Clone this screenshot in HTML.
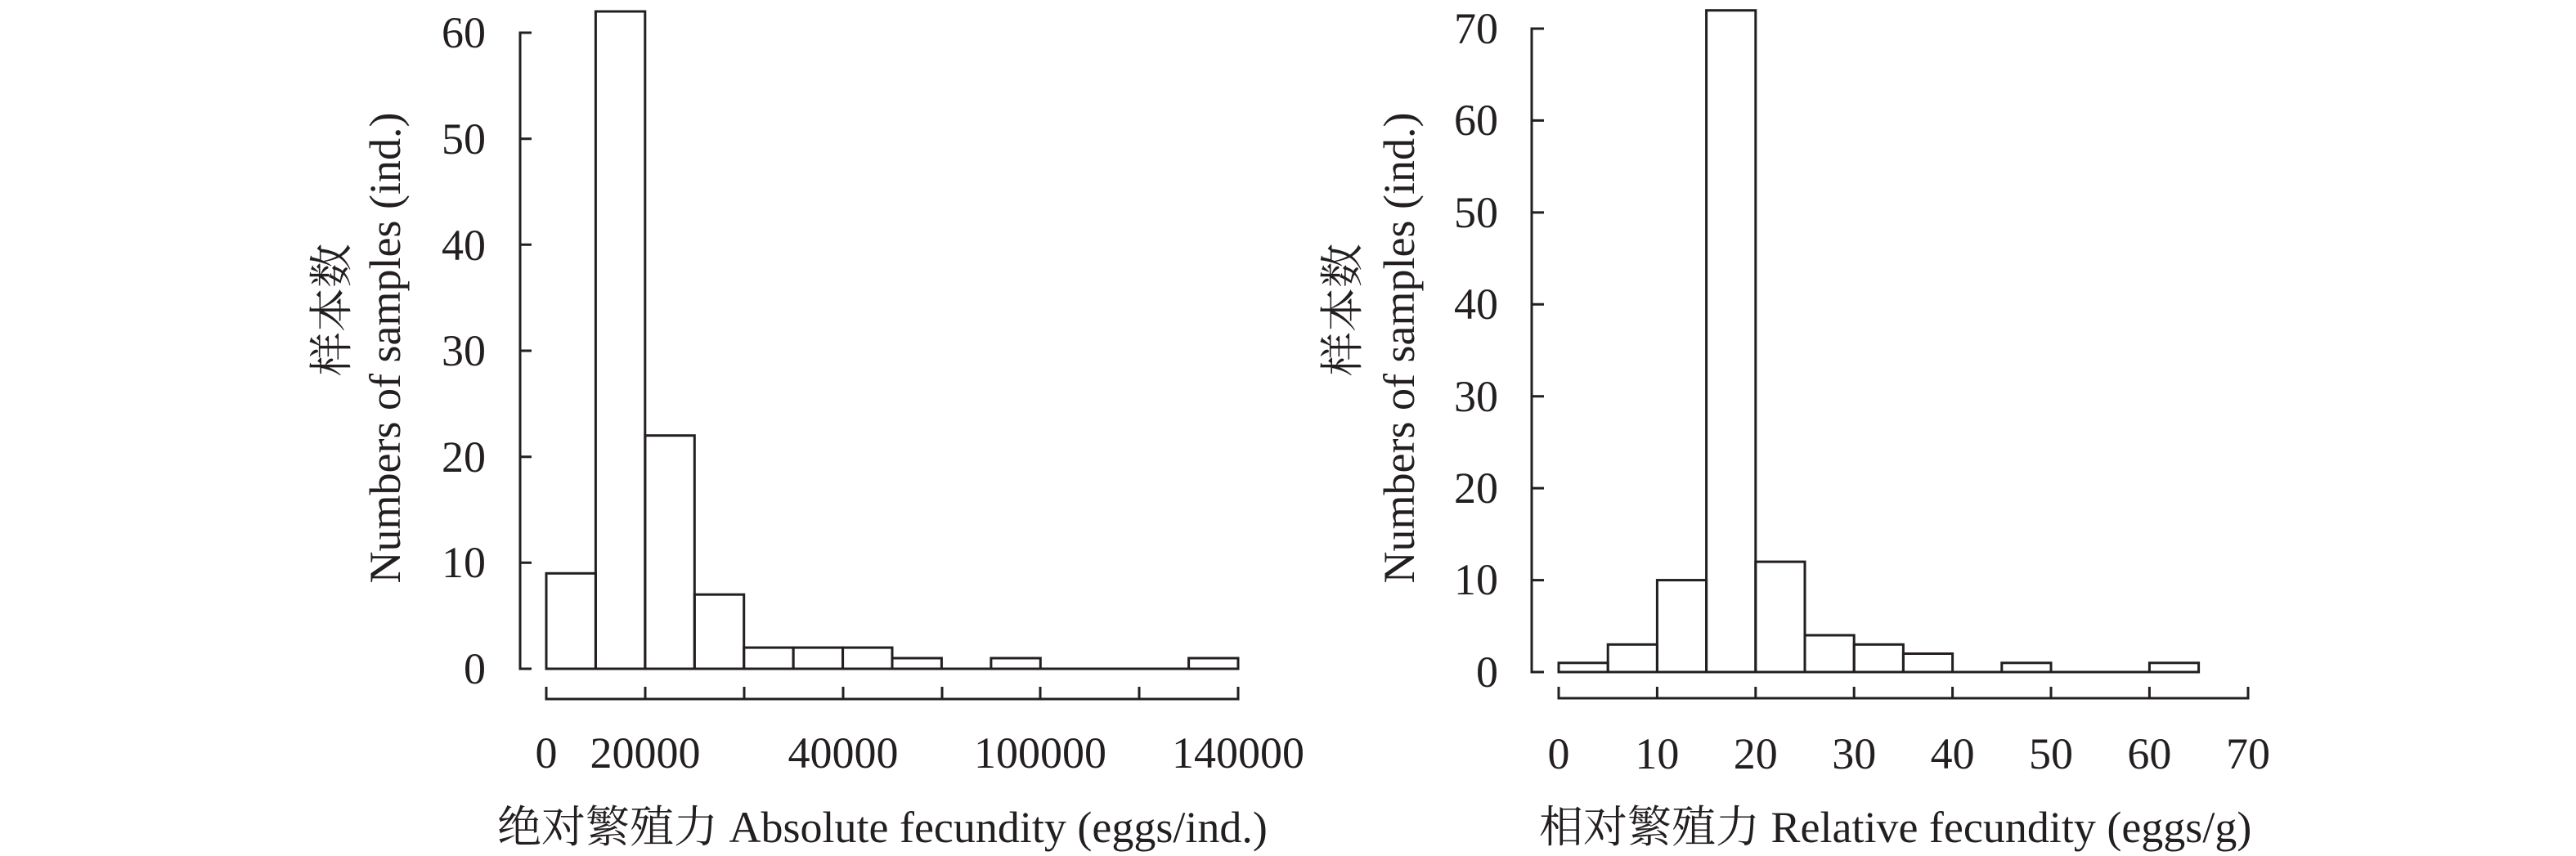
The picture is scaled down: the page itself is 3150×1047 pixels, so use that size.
<!DOCTYPE html>
<html><head><meta charset="utf-8"><style>
html,body{margin:0;padding:0;background:#fff;}
svg{display:block;}
text{font-family:"Liberation Serif","Noto Serif CJK SC","Noto Sans CJK SC",serif;fill:#231f20;}
</style></head><body>
<svg width="3150" height="1047" viewBox="0 0 3150 1047" xmlns="http://www.w3.org/2000/svg">
<g stroke="#231f20" stroke-width="3" fill="none">
<!-- Left chart y axis -->
<path d="M650,40 H636 V818 H650"/>
<path d="M636,169.7 H650 M636,299.3 H650 M636,429 H650 M636,558.7 H650 M636,688.3 H650"/>
<!-- Left bars: y0=818, 12.967 per unit -->
<path d="M668,818 H1514"/>
<rect x="668" y="701.3" width="60.4" height="116.7"/>
<rect x="728.4" y="14" width="60.4" height="804"/>
<rect x="788.9" y="532.7" width="60.4" height="285.3"/>
<rect x="849.3" y="727.2" width="60.4" height="90.8"/>
<rect x="909.7" y="792.1" width="60.4" height="25.9"/>
<rect x="970.1" y="792.1" width="60.4" height="25.9"/>
<rect x="1030.6" y="792.1" width="60.4" height="25.9"/>
<rect x="1091" y="805" width="60.4" height="13"/>
<rect x="1211.9" y="805" width="60.4" height="13"/>
<rect x="1453.6" y="805" width="60.4" height="13"/>
<!-- Left x axis -->
<path d="M668,840 V855 H1514 V840"/>
<path d="M789,840 V855 M910,840 V855 M1031,840 V855 M1152,840 V855 M1272,840 V855 M1393,840 V855"/>

<!-- Right chart y axis -->
<path d="M1888,35 H1873 V822 H1888"/>
<path d="M1873,147.4 H1888 M1873,259.9 H1888 M1873,372.3 H1888 M1873,484.7 H1888 M1873,597.1 H1888 M1873,709.6 H1888"/>
<!-- Right bars: y0=822, 11.24 per unit, bin 60.2 -->
<path d="M1906,822 H2689"/>
<rect x="1906" y="810.8" width="60.2" height="11.2"/>
<rect x="1966.2" y="788.3" width="60.2" height="33.7"/>
<rect x="2026.4" y="709.6" width="60.2" height="112.4"/>
<rect x="2086.6" y="12.7" width="60.2" height="809.3"/>
<rect x="2146.8" y="687.1" width="60.2" height="134.9"/>
<rect x="2207" y="777" width="60.2" height="45"/>
<rect x="2267.2" y="788.3" width="60.2" height="33.7"/>
<rect x="2327.4" y="799.5" width="60.2" height="22.5"/>
<rect x="2447.8" y="810.8" width="60.2" height="11.2"/>
<rect x="2628.4" y="810.8" width="60.2" height="11.2"/>
<!-- Right x axis -->
<path d="M1906,840 V854 H2749 V840"/>
<path d="M2026.4,840 V854 M2146.8,840 V854 M2267.2,840 V854 M2387.6,840 V854 M2508,840 V854 M2628.4,840 V854"/>
</g>

<g font-size="54">
<!-- Left y ticks -->
<g text-anchor="end">
<text x="594" y="58">60</text>
<text x="594" y="188">50</text>
<text x="594" y="318">40</text>
<text x="594" y="447">30</text>
<text x="594" y="577">20</text>
<text x="594" y="706">10</text>
<text x="594" y="836">0</text>
</g>
<g text-anchor="middle">
<text x="668" y="939">0</text>
<text x="789" y="939">20000</text>
<text x="1031" y="939">40000</text>
<text x="1272" y="939">100000</text>
<text x="1514" y="939">140000</text>
</g>
<text x="608" y="1030">绝对繁殖力 Absolute fecundity (eggs/ind.)</text>
<text transform="translate(489,425.5) rotate(-90)" text-anchor="middle">Numbers of samples (ind.)</text>
<text transform="translate(424,379) rotate(-90)" text-anchor="middle">样本数</text>

<!-- Right y ticks -->
<g text-anchor="end">
<text x="1832" y="53">70</text>
<text x="1832" y="165">60</text>
<text x="1832" y="278">50</text>
<text x="1832" y="390">40</text>
<text x="1832" y="503">30</text>
<text x="1832" y="615">20</text>
<text x="1832" y="727">10</text>
<text x="1832" y="840">0</text>
</g>
<g text-anchor="middle">
<text x="1906" y="940">0</text>
<text x="2026.4" y="940">10</text>
<text x="2146.8" y="940">20</text>
<text x="2267.2" y="940">30</text>
<text x="2387.6" y="940">40</text>
<text x="2508" y="940">50</text>
<text x="2628.4" y="940">60</text>
<text x="2749" y="940">70</text>
</g>
<text x="1882" y="1030">相对繁殖力 Relative fecundity (eggs/g)</text>
<text transform="translate(1729,425.5) rotate(-90)" text-anchor="middle">Numbers of samples (ind.)</text>
<text transform="translate(1660,379) rotate(-90)" text-anchor="middle">样本数</text>
</g>
</svg>
</body></html>
